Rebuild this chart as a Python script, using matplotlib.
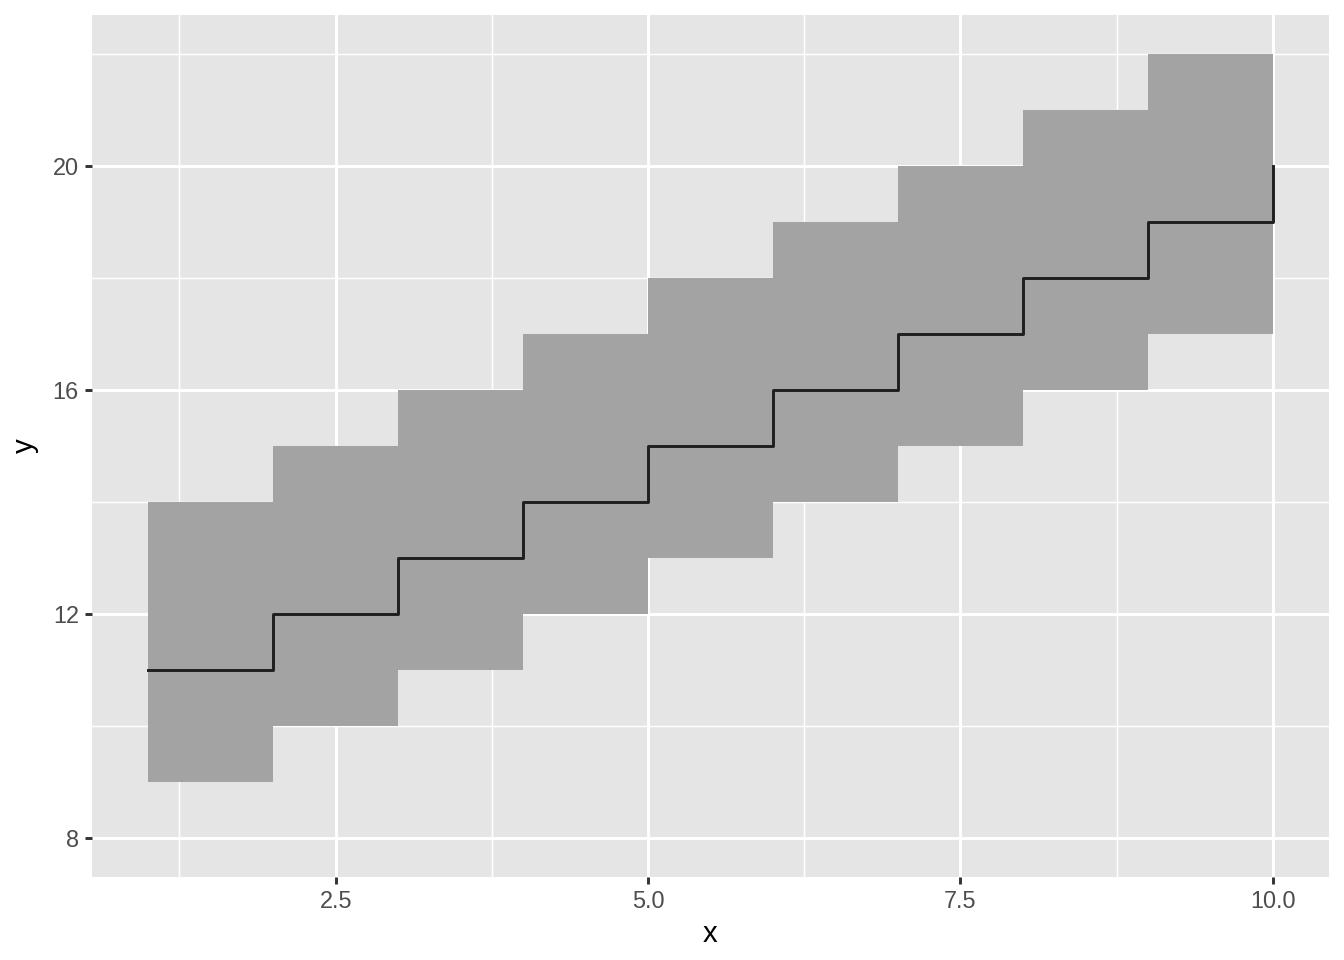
import matplotlib
matplotlib.use("Agg")
import matplotlib.pyplot as plt
from matplotlib.ticker import FixedLocator

# data
x = [1, 2, 3, 4, 5, 6, 7, 8, 9, 10]
y = [11, 12, 13, 14, 15, 16, 17, 18, 19, 20]
ymin = [9, 10, 11, 12, 13, 14, 15, 16, 17, 18]
ymax = [14, 15, 16, 17, 18, 19, 20, 21, 22, 23]

x_ticks = [2.5, 5.0, 7.5, 10.0]
x_labels = ["2.5", "5.0", "7.5", "10.0"]
y_ticks = [8, 12, 16, 20]
y_labels = ["8", "12", "16", "20"]

plt.rcParams["font.family"] = ["Liberation Sans", "DejaVu Sans"]

fig = plt.figure(figsize=(7, 5), dpi=192)
ax = fig.add_axes([92 / 1344, 1 - 877 / 960, (1329 - 92) / 1344, (877 - 15) / 960])

ax.set_facecolor("#E5E5E5")
ax.fill_between(x, ymin, ymax, step="post", color="#A3A3A3", linewidth=0, zorder=2)
ax.step(x, y, where="post", color="#1f1f1f", linewidth=1.1, zorder=3)

ax.set_xlim(0.55, 10.45)
ax.set_ylim(7.3, 22.7)

ax.xaxis.set_major_locator(FixedLocator(x_ticks))
ax.set_xticklabels(x_labels)
ax.yaxis.set_major_locator(FixedLocator(y_ticks))
ax.set_yticklabels(y_labels)
ax.xaxis.set_minor_locator(FixedLocator([1.25, 3.75, 6.25, 8.75]))
ax.yaxis.set_minor_locator(FixedLocator([10, 14, 18, 22]))

ax.grid(which="major", color="white", linewidth=1.1, zorder=1)
ax.grid(which="minor", color="white", linewidth=0.55, zorder=1)
ax.set_axisbelow(True)

for s in ax.spines.values():
    s.set_visible(False)

ax.tick_params(which="major", length=2.75, width=1.1, color="#333333",
               labelsize=8.8, labelcolor="#4D4D4D", pad=2.2)
ax.tick_params(which="minor", length=0)

ax.set_xlabel("x", fontsize=11, labelpad=2.5)
ax.set_ylabel("y", fontsize=11, labelpad=5)

fig.savefig("out.png", dpi=192, facecolor="white")
plt.close()
